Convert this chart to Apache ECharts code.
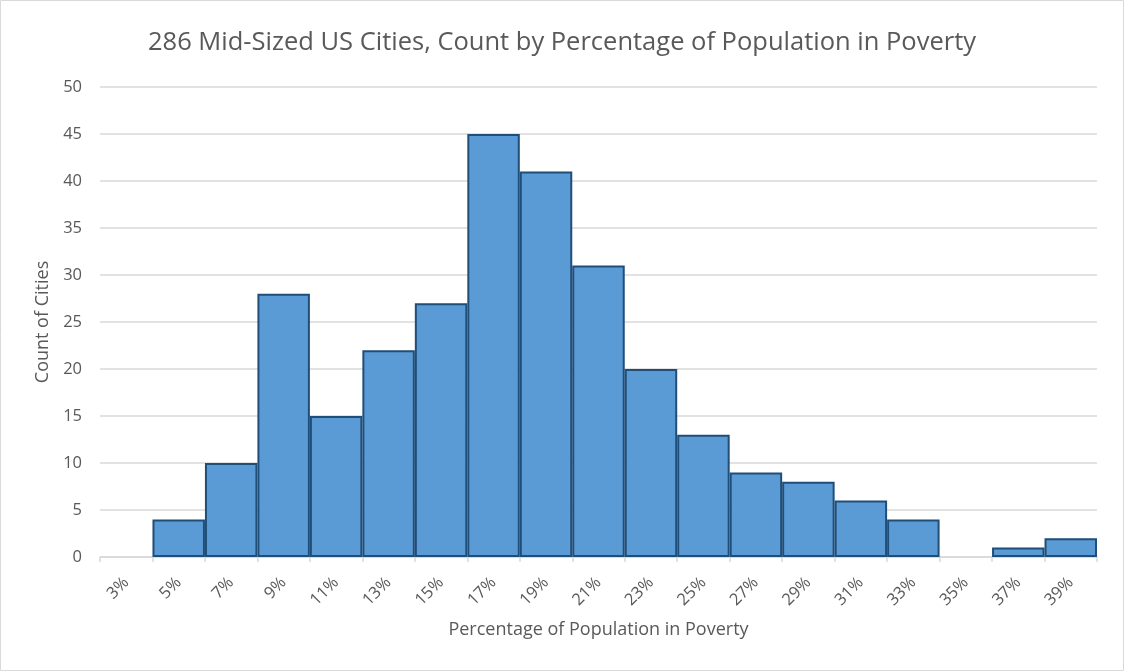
<!DOCTYPE html>
<html>
<head>
<meta charset="utf-8">
<script src="https://cdn.jsdelivr.net/npm/echarts@6/dist/echarts.min.js"></script>
<style>
  html, body { margin: 0; padding: 0; background: #fff; }
  #chart { width: 1124px; height: 671px; }
</style>
</head>
<body>
<div id="chart"></div>
<script>
const binLabels = ['3%', '5%', '7%', '9%', '11%', '13%', '15%', '17%', '19%', '21%',
  '23%', '25%', '27%', '29%', '31%', '33%', '35%', '37%', '39%'];
const cityCounts = [0, 4, 10, 28, 15, 22, 27, 45, 41, 31, 20, 13, 9, 8, 6, 4, 0, 1, 2];

const textColor = '#595959';
const lineColor = '#d9d9d9';
const font = 'Open Sans';

const chart = echarts.init(document.getElementById('chart'), null, { renderer: 'canvas' });

// empty bins get no outline, like the original
const barData = cityCounts.map(v => v === 0 ? { value: v, itemStyle: { borderWidth: 0 } } : v);

chart.setOption({
  animation: false,
  title: {
    text: '286 Mid-Sized US Cities, Count by Percentage of Population in Poverty',
    left: 'center',
    top: 25,
    textStyle: { fontFamily: font, fontSize: 25.5, fontWeight: 'normal', color: textColor }
  },
  graphic: [{
    type: 'rect',
    shape: { x: 0.5, y: 0.5, width: 1123, height: 670 },
    style: { fill: 'none', stroke: lineColor, lineWidth: 1 },
    silent: true
  }],
  grid: { left: 100, right: 27, top: 87, bottom: 114 },
  xAxis: {
    type: 'category',
    data: binLabels,
    name: 'Percentage of Population in Poverty',
    nameLocation: 'middle',
    nameGap: 64,
    nameTextStyle: { fontFamily: font, fontSize: 18, color: textColor },
    axisLine: { lineStyle: { color: lineColor, width: 1.5 } },
    axisTick: { show: true, length: 5, lineStyle: { color: lineColor, width: 1.5 } },
    axisLabel: { rotate: 45, fontFamily: font, fontSize: 16.5, color: textColor, margin: 23 }
  },
  yAxis: {
    type: 'value',
    min: 0,
    max: 50,
    interval: 5,
    name: 'Count of Cities',
    nameLocation: 'middle',
    nameGap: 46,
    nameTextStyle: { fontFamily: font, fontSize: 18, color: textColor },
    axisLine: { show: false },
    axisTick: { show: false },
    axisLabel: { fontFamily: font, fontSize: 16.5, color: textColor, margin: 18 },
    splitLine: { lineStyle: { color: lineColor, width: 1.5 } }
  },
  series: [{
    type: 'bar',
    data: barData,
    barCategoryGap: 0,
    itemStyle: { color: '#5b9bd5', borderColor: '#1f4e79', borderWidth: 2 }
  }]
});
</script>
</body>
</html>
